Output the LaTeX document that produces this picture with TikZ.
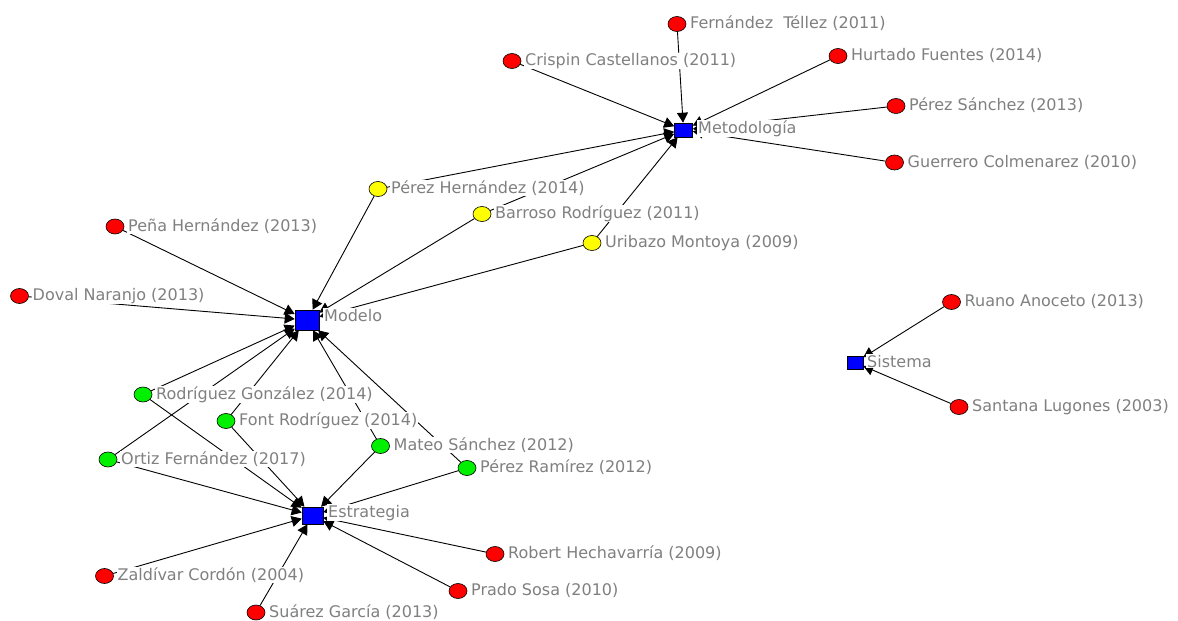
\documentclass[tikz,border=0pt]{standalone}
\usepackage{fontspec}
\setmainfont{DejaVu Sans}
\usetikzlibrary{arrows.meta,shapes.geometric}
\pgfdeclarelayer{bg}
\pgfsetlayers{bg,main}
\definecolor{lblgray}{RGB}{128,128,128}
\definecolor{nred}{RGB}{255,0,0}
\definecolor{nyel}{RGB}{255,255,0}
\definecolor{ngrn}{RGB}{0,240,0}
\definecolor{nblue}{RGB}{0,0,255}
\newcommand\pers[5]{%
  \node[person,fill=#4] (#1) at (#2,#3) {};
  \node[lbl] (l#1) at ([xshift=12pt,yshift=-4.5pt]#1.center) {#5};}
\newcommand\topicnode[8]{%
  \node[topic,minimum width=#4pt,minimum height=#5pt] (#1) at (#2,#3) {};
  \node[lbl] (l#1) at ([xshift=#6pt,yshift=#7pt]#1.center) {#8};}
\begin{document}
\begin{tikzpicture}[x=1pt,y=-1pt,
  person/.style={ellipse,draw=black,line width=0.6pt,minimum width=18pt,minimum height=15pt,inner sep=0pt},
  topic/.style={rectangle,draw=black,line width=0.6pt,fill=nblue,inner sep=0pt},
  lbl/.style={anchor=base west,fill=white,text=lblgray,inner xsep=1pt,inner ysep=0.5pt,font=\fontsize{16}{18}\selectfont},
  link/.style={draw=black,line width=0.9pt,-{Triangle[length=10pt,width=11pt]}}]
\useasboundingbox (0,0) rectangle (1178,621);
% topics
\topicnode{Met}{683.5}{130}{18}{14}{13.5}{-3}{Metodología}
\topicnode{Mod}{307}{320}{24}{20}{16}{-1}{Modelo}
\topicnode{Est}{312.5}{515.5}{21}{17}{14.5}{-1.5}{Estrategia}
\topicnode{Sis}{855}{362.5}{16}{13}{11}{-4.5}{Sistema}
% red
\pers{FT}{677}{24}{nred}{Fernández\ \ Téllez (2011)}
\pers{CC}{512}{61}{nred}{Crispin Castellanos (2011)}
\pers{HF}{838}{56}{nred}{Hurtado Fuentes (2014)}
\pers{PSa}{896}{106}{nred}{Pérez Sánchez (2013)}
\pers{GC}{894.5}{162.5}{nred}{Guerrero Colmenarez (2010)}
\pers{PeH}{115}{226.5}{nred}{Peña Hernández (2013)}
\pers{DN}{19.5}{296}{nred}{Doval Naranjo (2013)}
\pers{RA}{951.5}{302}{nred}{Ruano Anoceto (2013)}
\pers{SL}{959}{407}{nred}{Santana Lugones (2003)}
\pers{RH}{495}{554}{nred}{Robert Hechavarría (2009)}
\pers{PSo}{458}{591}{nred}{Prado Sosa (2010)}
\pers{ZC}{104.5}{576}{nred}{Zaldívar Cordón (2004)}
\pers{SG}{256}{612.5}{nred}{Suárez García (2013)}
% yellow
\pers{PH}{378}{189}{nyel}{Pérez Hernández (2014)}
\pers{BR}{482}{214}{nyel}{Barroso Rodríguez (2011)}
\pers{UM}{592}{243}{nyel}{Uribazo Montoya (2009)}
% green
\pers{RG}{143}{394.5}{ngrn}{Rodríguez González (2014)}
\pers{FR}{226}{421}{ngrn}{Font Rodríguez (2014)}
\pers{MS}{380.5}{446}{ngrn}{Mateo Sánchez (2012)}
\pers{PR}{467}{468}{ngrn}{Pérez Ramírez (2012)}
\pers{OF}{108}{459.5}{ngrn}{Ortiz Fernández (2017)}
% links
\begin{pgfonlayer}{bg}
\foreach \s/\t in {FT/Met,CC/Met,HF/Met,PSa/Met,GC/Met,PH/Met,BR/Met,UM/Met,
  PH/Mod,BR/Mod,UM/Mod,PeH/Mod,DN/Mod,RG/Mod,FR/Mod,MS/Mod,PR/Mod,OF/Mod,
  RG/Est,FR/Est,MS/Est,PR/Est,OF/Est,ZC/Est,SG/Est,RH/Est,PSo/Est,
  RA/Sis,SL/Sis}
  \draw[link] (\s) -- (\t);
\end{pgfonlayer}
\end{tikzpicture}
\end{document}
